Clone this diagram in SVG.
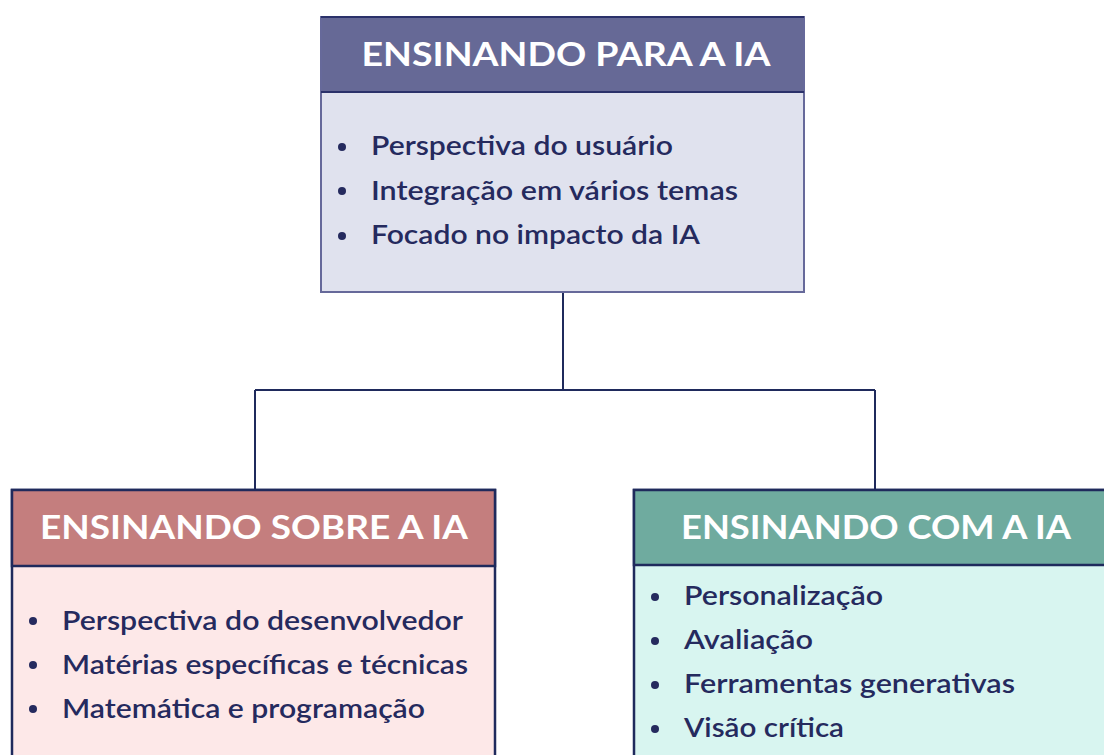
<svg xmlns="http://www.w3.org/2000/svg" width="1104" height="755" viewBox="0 0 1104 755">
<style>
.hdr{font-family:Lato,"Noto Sans","Liberation Sans",sans-serif;font-weight:700;font-size:33px;fill:#ffffff;text-anchor:middle}
.item{font-family:Lato,"Noto Sans","Liberation Sans",sans-serif;font-weight:600;font-size:27px;fill:#252a5e}
.dot{fill:#252a5e}
.conn{fill:none;stroke:#1f2a5c;stroke-width:2}
</style>
<rect width="1104" height="755" fill="#ffffff"/>
<g id="connectors">
<path class="conn" d="M563 292 V390 M255 390 H875 M255 390 V490 M875 390 V490"/>
</g>
<g id="node-para">
<rect x="321" y="17" width="483" height="275" fill="#e0e2ee" stroke="#66699a" stroke-width="2"/>
<rect x="321" y="17" width="483" height="75" fill="#666996" stroke="#2b316a" stroke-width="2"/>
<rect x="321" y="17" width="483" height="275" fill="none" stroke="#66699a" stroke-width="2"/>
<line x1="321" y1="92" x2="804" y2="92" stroke="#2b316a" stroke-width="2"/>
<line x1="321" y1="17" x2="804" y2="17" stroke="#2b316a" stroke-width="2"/>
<text class="hdr" x="566" y="66" textLength="409" lengthAdjust="spacingAndGlyphs">ENSINANDO PARA A IA</text>
<circle class="dot" cx="342" cy="147" r="4"/>
<circle class="dot" cx="342" cy="191" r="4"/>
<circle class="dot" cx="342" cy="236" r="4"/>
<text class="item" x="371" y="155" textLength="302" lengthAdjust="spacingAndGlyphs">Perspectiva do usuário</text>
<text class="item" x="371" y="200" textLength="367" lengthAdjust="spacingAndGlyphs">Integração em vários temas</text>
<text class="item" x="371" y="244" textLength="329" lengthAdjust="spacingAndGlyphs">Focado no impacto da IA</text>
</g>
<g id="node-sobre">
<rect x="12" y="490" width="483" height="275" fill="#fde8e8" stroke="#1f2a5c" stroke-width="2.5"/>
<rect x="12" y="490" width="483" height="76" fill="#c47e7e" stroke="#1f2a5c" stroke-width="2.5"/>
<text class="hdr" x="254" y="539" textLength="428" lengthAdjust="spacingAndGlyphs">ENSINANDO SOBRE A IA</text>
<circle class="dot" cx="33" cy="621" r="4"/>
<circle class="dot" cx="33" cy="665" r="4"/>
<circle class="dot" cx="33" cy="709" r="4"/>
<text class="item" x="62" y="630" textLength="401" lengthAdjust="spacingAndGlyphs">Perspectiva do desenvolvedor</text>
<text class="item" x="62" y="674" textLength="406" lengthAdjust="spacingAndGlyphs">Matérias específicas e técnicas</text>
<text class="item" x="62" y="718" textLength="363" lengthAdjust="spacingAndGlyphs">Matemática e programação</text>
</g>
<g id="node-com">
<rect x="634" y="490" width="483" height="275" fill="#d8f5f0" stroke="#1f2a5c" stroke-width="2.5"/>
<rect x="634" y="490" width="483" height="75" fill="#6fab9f" stroke="#1f2a5c" stroke-width="2.5"/>
<text class="hdr" x="876" y="539" textLength="390" lengthAdjust="spacingAndGlyphs">ENSINANDO COM A IA</text>
<circle class="dot" cx="655" cy="597" r="4"/>
<circle class="dot" cx="655" cy="641" r="4"/>
<circle class="dot" cx="655" cy="685" r="4"/>
<circle class="dot" cx="655" cy="729" r="4"/>
<text class="item" x="684" y="605" textLength="199" lengthAdjust="spacingAndGlyphs">Personalização</text>
<text class="item" x="684" y="649" textLength="129" lengthAdjust="spacingAndGlyphs">Avaliação</text>
<text class="item" x="684" y="693" textLength="331" lengthAdjust="spacingAndGlyphs">Ferramentas generativas</text>
<text class="item" x="684" y="737" textLength="160" lengthAdjust="spacingAndGlyphs">Visão crítica</text>
</g>
</svg>
